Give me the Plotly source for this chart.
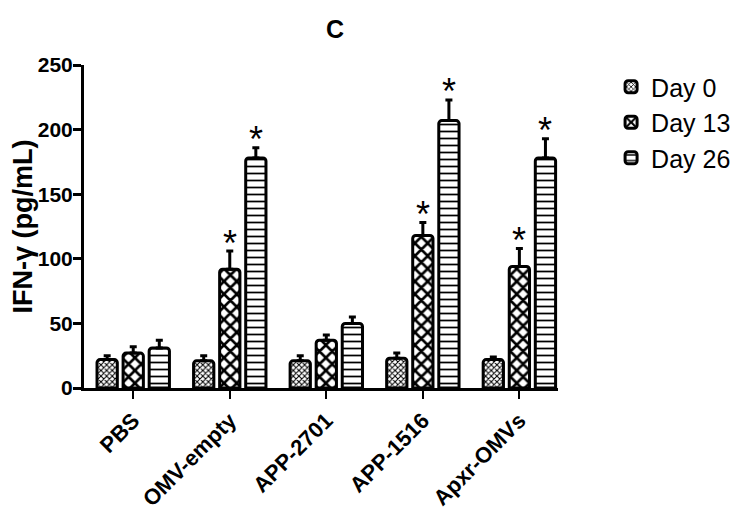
import plotly.graph_objects as go

categories = ["PBS", "OMV-empty", "APP-2701", "APP-1516", "Apxr-OMVs"]
series_names = ["Day 0", "Day 13", "Day 26"]
day0 = [22, 21, 21, 23, 22]
day0_err = [3, 4, 4, 4, 2]
day13 = [27, 92, 37, 118, 94]
day13_err = [5, 14, 4, 10, 14]
day26 = [31, 178, 50, 207, 178]
day26_err = [6, 8, 5, 16, 15]
day13_sig = [False, True, False, True, True]
day26_sig = [False, True, False, True, True]
y_ticks = [0, 50, 100, 150, 200, 250]

values = [day0, day13, day26]
errors = [day0_err, day13_err, day26_err]
sigs = [None, day13_sig, day26_sig]
offsets = [-0.27, 0.0, 0.27]
patterns = [
    dict(shape="x", size=4, solidity=0.45, fgcolor="black", bgcolor="white", fillmode="replace"),
    dict(shape="x", size=9, solidity=0.5, fgcolor="black", bgcolor="white", fillmode="replace"),
    dict(shape="-", size=7, solidity=0.25, fgcolor="black", bgcolor="white", fillmode="replace"),
]

FONT = "Liberation Sans, Arial, sans-serif"
fig = go.Figure()
xs = list(range(len(categories)))
for k, name in enumerate(series_names):
    fig.add_trace(go.Bar(
        x=[i + offsets[k] for i in xs],
        y=values[k],
        width=0.21,
        name=name,
        marker=dict(color="white", line=dict(color="black", width=3), pattern=patterns[k], cornerradius=3),
        error_y=dict(type="data", array=errors[k], arrayminus=[0] * len(xs), symmetric=False,
                     color="black", thickness=3, width=3.5),
    ))

annotations = [dict(text="<b>C</b>", x=0.53, y=1.0, xref="paper", yref="paper",
                    yanchor="bottom", yshift=20, showarrow=False,
                    font=dict(size=25, family=FONT))]
for k in (1, 2):
    for i in xs:
        if sigs[k][i]:
            annotations.append(dict(
                text="*", x=i + offsets[k], y=values[k][i] + errors[k][i], xref="x", yref="y",
                yanchor="middle", yshift=8, showarrow=False,
                font=dict(size=36, family=FONT, color="black")))

fig.update_layout(
    width=740, height=510,
    margin=dict(l=76, r=190, t=57, b=130, autoexpand=False),
    plot_bgcolor="white", paper_bgcolor="white",
    font=dict(family=FONT, color="black"),
    showlegend=True,
    legend=dict(x=1.112, y=1.003, xanchor="left", yanchor="top",
                font=dict(size=25, family=FONT), tracegroupgap=0, itemwidth=30),
    annotations=annotations,
)
fig.update_xaxes(
    range=[-0.51, 4.40], tickmode="array", tickvals=xs, automargin=False,
    ticktext=["<b>%s</b>" % c for c in categories], tickangle=-45,
    showline=True, linecolor="black", linewidth=3, ticks="outside", ticklen=8, tickwidth=2,
    tickcolor="black", showgrid=False, zeroline=False, tickfont=dict(size=22, family=FONT),
)
fig.update_yaxes(
    range=[0, 250], tickmode="array", tickvals=y_ticks, automargin=False,
    ticktext=["<b>%d</b>" % t for t in y_ticks], ticklabelstandoff=-4,
    showline=True, linecolor="black", linewidth=3, ticks="outside", ticklen=8, tickwidth=3,
    tickcolor="black", showgrid=False, zeroline=False, tickfont=dict(size=21, family=FONT),
    title=dict(text="<b>IFN-γ (pg/mL)</b>", font=dict(size=27, family=FONT), standoff=2),
)
fig.write_html("out.html")
